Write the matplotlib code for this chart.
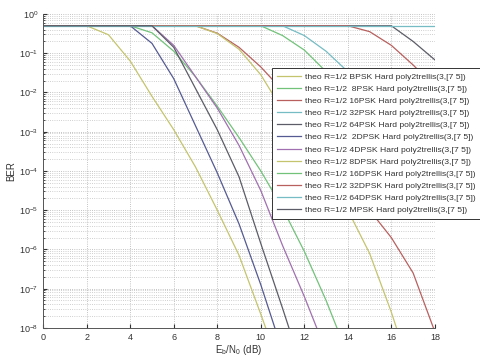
from matplotlib import pyplot as plt
from matplotlib.ticker import LogLocator, MultipleLocator, NullFormatter
import numpy as np

# theoretical coded BER curves, R=1/2 hard decision, poly2trellis(3,[7 5])
# values are log10(BER) at integer Eb/N0 points
ebno = list(range(0, 19))

labels = [
    'theo R=1/2 BPSK Hard poly2trellis(3,[7 5])',
    'theo R=1/2  8PSK Hard poly2trellis(3,[7 5])',
    'theo R=1/2 16PSK Hard poly2trellis(3,[7 5])',
    'theo R=1/2 32PSK Hard poly2trellis(3,[7 5])',
    'theo R=1/2 64PSK Hard poly2trellis(3,[7 5])',
    'theo R=1/2  2DPSK Hard poly2trellis(3,[7 5])',
    'theo R=1/2 4DPSK Hard poly2trellis(3,[7 5])',
    'theo R=1/2 8DPSK Hard poly2trellis(3,[7 5])',
    'theo R=1/2 16DPSK Hard poly2trellis(3,[7 5])',
    'theo R=1/2 32DPSK Hard poly2trellis(3,[7 5])',
    'theo R=1/2 64DPSK Hard poly2trellis(3,[7 5])',
    'theo R=1/2 MPSK Hard poly2trellis(3,[7 5])',
]

H = -0.301  # log10(0.5)
bpsk   = [H, H, H, -0.53, -1.2, -2.1, -2.95, -3.9, -5.0, -6.15, -7.65, -9.2]
psk8   = [H] * 5 + [-0.48, -0.95, -1.6, -2.35, -3.15, -4.0, -4.95, -6.05, -7.3, -8.7]
psk16  = [H] * 8 + [-0.49, -0.85, -1.35, -1.95, -2.7, -3.5, -4.3, -5.0, -5.7, -6.6, -8.1]
psk32  = [H] * 12 + [-0.55, -0.95, -1.47, -2.0, -2.6, -3.2, -3.8]
psk64  = [H] * 17 + [-0.7, -1.17]
dpsk2  = [H] * 5 + [-0.75, -1.65, -2.85, -4.05, -5.35, -6.9, -8.6]
dpsk4  = [H] * 6 + [-0.8, -1.6, -2.4, -3.35, -4.5, -5.9, -7.2, -8.6]
dpsk8  = [H] * 8 + [-0.5, -0.9, -1.55, -2.45, -3.35, -4.25, -5.0, -6.1, -7.6, -9.3]
dpsk16 = [H] * 11 + [-0.55, -0.92, -1.47, -2.0, -2.6, -3.2, -3.85, -4.5]
dpsk32 = [H] * 15 + [-0.45, -0.8, -1.3, -1.85]
dpsk64 = [H] * 19
mpsk   = [H] * 6 + [-0.85, -1.9, -2.95, -4.15, -5.85, -7.5, -9.2]

series = [bpsk, psk8, psk16, psk32, psk64, dpsk2, dpsk4,
          dpsk8, dpsk16, dpsk32, dpsk64, mpsk]

# colour order repeats every 7 lines
palette = ['#c4c46e', '#72c27a', '#b8605e', '#76bcc4', '#5c5c68', '#555a92', '#a070b0']

plt.rcParams['font.family'] = ['Liberation Sans', 'DejaVu Sans']

fig, ax = plt.subplots(figsize=(4.8, 3.58), dpi=100)
plt.subplots_adjust(left=0.09, right=0.906, top=0.961, bottom=0.084)

for i, (lab, vals) in enumerate(zip(labels, series)):
    x = ebno[:len(vals)]
    y = 10.0 ** np.array(vals)
    ax.semilogy(x, y, color=palette[i % 7], lw=0.9, label=lab)

ax.set_xlim(0, 18)
ax.set_ylim(1e-8, 1)
ax.xaxis.set_major_locator(MultipleLocator(2))
ax.yaxis.set_major_locator(LogLocator(base=10, numticks=20))
ax.yaxis.set_minor_locator(LogLocator(base=10, subs=np.arange(2, 10), numticks=20))
ax.yaxis.set_minor_formatter(NullFormatter())

ax.grid(True, which='major', axis='both', ls=':', color='#b0b0b0', lw=0.6)
ax.grid(True, which='minor', axis='y', ls=':', color='#c0c0c0', lw=0.6)

ax.tick_params(which='both', direction='in', labelsize=6.5, colors='#333333')
ax.tick_params(which='major', length=3)
ax.tick_params(which='minor', length=1.5)
ax.spines['top'].set_visible(False)
ax.spines['right'].set_visible(False)
for s in ('left', 'bottom'):
    ax.spines[s].set_color('#555555')
    ax.spines[s].set_linewidth(0.7)

ax.set_xlabel('E$_\\mathregular{b}$/N$_\\mathregular{0}$ (dB)', fontsize=7, color='#333333', labelpad=1)
ax.set_ylabel('BER', fontsize=7, color='#333333', labelpad=2)

leg = ax.legend(loc='upper left', bbox_to_anchor=(0.567, 0.81), bbox_transform=fig.transFigure,
                fontsize=6.1, frameon=True, fancybox=False, framealpha=1,
                edgecolor='#333333', handlelength=2.8, handletextpad=0.5,
                labelspacing=0.5, borderpad=0.55, borderaxespad=0)
leg.get_frame().set_linewidth(0.7)
for t in leg.get_texts():
    t.set_color('#333333')

plt.savefig('out.png', dpi=100)
